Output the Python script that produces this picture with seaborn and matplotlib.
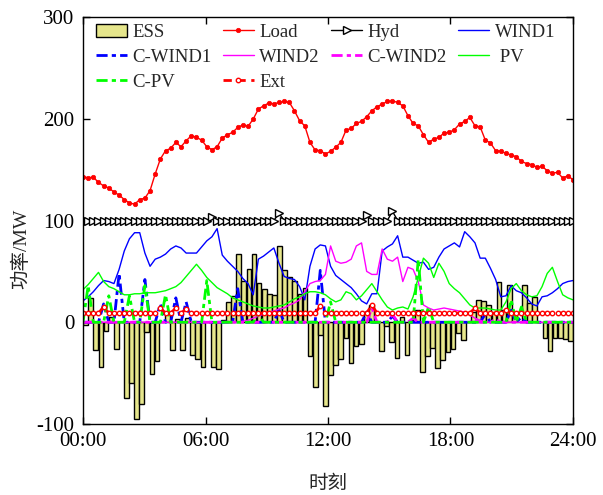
import numpy as np
import matplotlib
matplotlib.use("Agg")
import matplotlib.pyplot as plt
import seaborn as sns

# ---------------- data (96 quarter-hour steps) ----------------
ess = [-3, 24, -27, -44, -9, 5, -26, 0, -74, -60,
       -95, -80, -10, -51, -38, 0, 8, -27, 3, -27,
       4, -32, -36, -44, 0, -44, -46, 2, 20, 26,
       67, 41, 52, 67, 39, 33, 28, 27, 75, 51,
       44, 41, 28, 34, -33, -64, -13, -82, -52, -42,
       -36, -15, -40, -23, -21, 10, 17, 0, -28, -4,
       -19, -35, 5, -32, 2, 12, -49, -33, -25, -45,
       -37, -29, -26, -11, -17, 0, 10, 22, 21, 17,
       9, 40, 12, 37, 10, 0, 37, 19, 25, 0,
       -15, -28, -15, -15, -16, -18]

load = [143, 142, 142.5, 137.5, 134, 132, 128, 125, 120.6, 117.3,
        116, 120.6, 122, 129.4, 145.8, 160.5, 168.6, 171, 176.8, 172.5,
        178.4, 183.3, 181.7, 179, 172.5, 169.6, 172.5, 181, 184.3, 186.6,
        191.5, 194, 192.5, 199.7, 209.5, 212.7, 215.4, 214.7, 216, 217,
        216, 207.8, 198, 193, 176.8, 169.3, 168.6, 165.4,
        168, 172, 176.8, 188.9, 190.5, 195.4, 197.4, 202, 207.8, 211.8,
        214.4, 217, 217.6, 216, 212.7, 203, 195.4, 193, 184.3, 176.8,
        180, 181.7, 186, 186.6, 189.2, 194.8, 197.4, 201.3, 193, 192,
        179, 176.2, 168.6, 168, 166, 164.4, 162.7, 158, 156, 155,
        152.3, 153.2, 149, 146.4, 147.4, 141.8, 144, 140]

hyd = [100] * 25 + [103] + [100] * 12 + [107] + [100] * 16 + [105] + [100] * 4 + [109] + [100] * 35

wind1 = [21, 25, 30, 36, 41, 40, 38, 52, 70, 82,
         88, 88, 68, 55, 62, 64, 67, 72, 75, 73,
         68, 68, 68, 74, 80, 84, 92, 66, 60, 55,
         50, 43, 38, 27, 62, 65, 69, 73, 58, 45,
         43, 42, 35, 22, 55, 72, 76, 75, 55, 46,
         42, 38, 34, 28, 21, 18, 28, 28, 70, 74,
         77, 85, 64, 64, 61, 58, 59, 52, 54, 64,
         72, 75, 78, 74, 89, 84, 78, 63, 63, 53,
         42, 25, 26, 36, 31, 29, 24, 18, 16, 25,
         26, 29, 33, 38, 40, 41]

c_wind1 = [0, 0, 0, 0, 18, 0, 0, 48, 0, 0,
           0, 0, 42, 0, 0, 18, 0, 0, 24, 0,
           20, 0, 0, 0, 0, 0, 0, 0, 0, 0,
           33, 0, 0, 0, 0, 0, 0, 0, 12, 0,
           0, 0, 0, 0, 0, 0, 51, 0, 0, 0,
           0, 0, 0, 0, 0, 10, 0, 0, 0, 0,
           6, 0, 0, 0, 0, 0, 0, 0, 0, 0,
           0, 0, 0, 0, 0, 0, 0, 0, 8, 0,
           0, 0, 0, 12, 0, 5, 0, 0, 0, 0,
           0, 0, 0, 0, 0, 0]

wind2 = [0] * 30 + [0, 1, 2, 4, 6, 8, 10, 11, 13, 14,
                    17, 19, 22, 30, 38, 40, 41, 47, 75, 60,
                    58, 59, 62, 75, 78, 50, 47, 47, 72, 62,
                    60, 64, 40, 54, 52, 40, 17, 14, 12, 13,
                    14, 13, 12, 11, 10, 7, 4, 2] + [0] * 18

c_wind2 = [0] * 56 + [14, 0, 0, 0, 8, 0, 0, 0, 4, 0,
                      0, 0, 0, 0, 0, 0, 0, 0, 0, 0,
                      3, 0, 0, 0, 3] + [0] * 15

pv = [32, 37, 43, 49, 40, 35, 33, 30, 27, 27,
      28, 28, 29, 29, 29, 30, 31, 33, 35, 39,
      45, 51, 57, 51, 44, 39, 34, 31, 28, 24,
      22, 20, 18, 16, 15, 14, 14, 15, 16, 17,
      20, 23, 25, 28, 30, 30, 29, 27, 23, 20,
      22, 30, 28, 22, 26, 32, 38, 30, 22, 15,
      12, 14, 15, 13, 25, 44, 63, 58, 44, 58,
      50, 38, 33, 29, 23, 17, 14, 14, 14, 13,
      12, 12, 20, 33, 38, 31, 27, 25, 26, 35,
      48, 54, 40, 27, 24, 22]

c_pv = [0, 36, 0, 0, 0, 26, 0, 0, 0, 26,
        0, 0, 36, 0, 0, 0, 27, 0, 0, 0,
        0, 0, 0, 0, 41, 0, 0, 0, 0, 0,
        0, 0, 0, 0, 8, 0, 0, 0, 0, 0,
        0, 0, 0, 0, 0, 0, 0, 0, 20, 0,
        0, 0, 0, 0, 0, 0, 0, 0, 0, 0,
        0, 0, 0, 0, 0, 62, 0, 15, 0, 0,
        0, 0, 0, 0, 0, 0, 0, 0, 0, 0,
        0, 0, 0, 22, 0, 15, 0, 0, 0, 0,
        0, 0, 0, 0, 0, 0]

ext = [9] * 96
for _i, _v in [(4, 15), (15, 14), (18, 14), (20, 13), (46, 16), (56, 17), (76, 14), (82, 12)]:
    ext[_i] = _v

xtick_vals = [0, 6, 12, 18, 24]
xtick_labels = ["00:00", "06:00", "12:00", "18:00", "24:00"]
ytick_vals = [-100, 0, 100, 200, 300]

# ---------------- plotting ----------------
sns.set_style("ticks")
plt.rcParams["font.family"] = ["Liberation Serif", "Noto Sans CJK SC"]
plt.rcParams["axes.unicode_minus"] = False

hours = np.linspace(0, 24, len(load))
bar_hours = (np.arange(len(ess)) + 0.5) / 4

fig = plt.figure(figsize=(6.03, 4.95), dpi=100)
ax = fig.add_axes([83 / 603, 1 - 424 / 495, 490 / 603, 407 / 495])

sns.barplot(x=bar_hours, y=ess, native_scale=True, width=0.92, color="#E6E68C",
            saturation=1, edgecolor="black", linewidth=1.0, errorbar=None,
            label="ESS", ax=ax)

dashdot = (0, (4, 1.5, 1.5, 1.5))
sns.lineplot(x=hours, y=load, color="#FF0000", lw=1, marker="o", markersize=3.2,
             markeredgewidth=0.5, markeredgecolor="#FF0000", label="Load", ax=ax)
sns.lineplot(x=hours, y=hyd, color="black", lw=1, marker=">", markersize=5.5,
             markerfacecolor="white", markeredgecolor="black", markeredgewidth=1.0,
             label="Hyd", ax=ax)
sns.lineplot(x=hours, y=wind1, color="#0000FF", lw=1, label="WIND1", ax=ax)
sns.lineplot(x=hours, y=c_wind1, color="#0000FF", lw=2, linestyle=dashdot,
             label="C-WIND1", ax=ax)
sns.lineplot(x=hours, y=wind2, color="#FF00FF", lw=1, label="WIND2", ax=ax)
sns.lineplot(x=hours, y=c_wind2, color="#FF00FF", lw=2, linestyle=dashdot,
             label="C-WIND2", ax=ax)
sns.lineplot(x=hours, y=pv, color="#00FF00", lw=1, label=" PV", ax=ax)
sns.lineplot(x=hours, y=c_pv, color="#00FF00", lw=2, linestyle=dashdot,
             label="C-PV", ax=ax)
sns.lineplot(x=hours, y=ext, color="#FF0000", lw=2, linestyle=(0, (3, 2)), marker="o",
             markersize=3.2, markerfacecolor="white", markeredgecolor="#FF0000",
             markeredgewidth=1.0, label="Ext", ax=ax)

ax.set_xlim(0, 24)
ax.set_ylim(-100, 300)
ax.set_xticks(xtick_vals)
ax.set_xticklabels(xtick_labels)
ax.set_yticks(ytick_vals)
ax.tick_params(direction="in", top=True, right=True, length=5, width=1,
               labelsize=15, colors="black", pad=6)
for s in ax.spines.values():
    s.set_linewidth(1)
    s.set_color("black")

ax.set_xlabel("时刻", fontsize=14)
ax.set_ylabel("功率/MW", fontsize=14)
ax.xaxis.set_label_coords(0.5, -0.128)
ax.yaxis.set_label_coords(-0.108, 0.43)

handles, labels = ax.get_legend_handles_labels()
hmap = dict(zip(labels, handles))
order = ["ESS", "C-WIND1", "C-PV", "Load", "WIND2", "Ext", "Hyd", "C-WIND2", "WIND1", " PV"]
ax.legend([hmap[k] for k in order], order, ncol=4, loc="upper left",
          bbox_to_anchor=(0.026, 0.983), frameon=False, fontsize=13.5,
          handlelength=1.65, handletextpad=0.3, columnspacing=0.6,
          labelspacing=0.42, borderpad=0, borderaxespad=0, numpoints=1)

fig.savefig("out.png", dpi=100)
